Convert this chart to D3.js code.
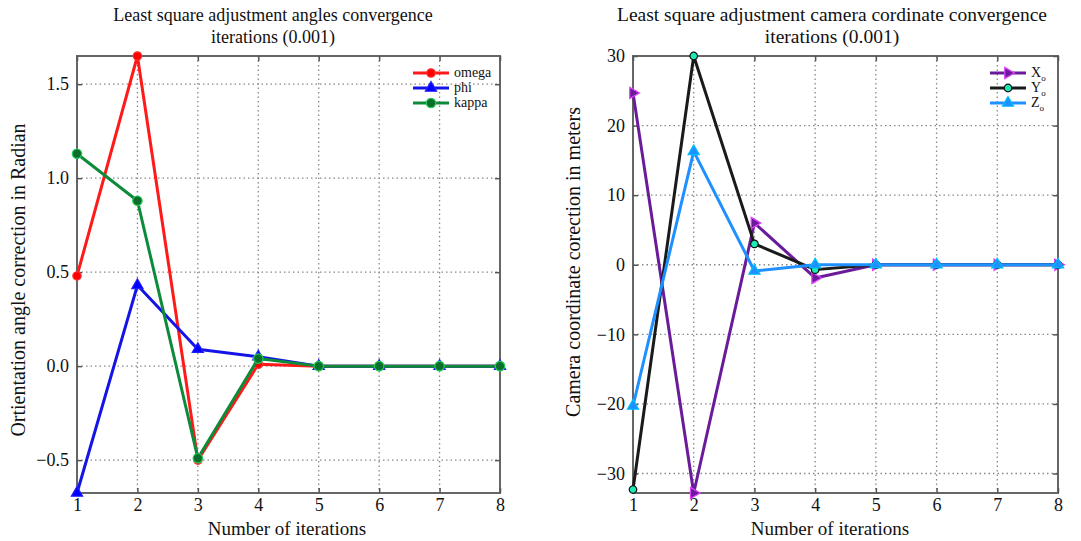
<!DOCTYPE html>
<html>
<head>
<meta charset="utf-8">
<script src="https://cdn.jsdelivr.net/npm/d3@7"></script>
<style>
  body { margin: 0; background: #fff; }
  svg text { font-family: "Liberation Serif", "DejaVu Serif", serif; fill: #111; }
</style>
</head>
<body>
<div id="chart"></div>
<script>
// iterations
var iterations = [1, 2, 3, 4, 5, 6, 7, 8];

// angle corrections (radian)
var omega = [0.48, 1.65, -0.50, 0.01, 0, 0, 0, 0];
var phi   = [-0.675, 0.43, 0.09, 0.05, 0, 0, 0, 0];
var kappa = [1.13, 0.88, -0.49, 0.04, 0, 0, 0, 0];

// camera coordinate corrections (meters)
var X0 = [24.7, -32.8, 6, -1.9, 0, 0, 0, 0];
var Y0 = [-32.3, 30, 3, -0.7, 0, 0, 0, 0];
var Z0 = [-20.3, 16.3, -0.9, 0, 0, 0, 0, 0];

var leftYTicks = [-0.5, 0.0, 0.5, 1.0, 1.5];
var rightYTicks = [-30, -20, -10, 0, 10, 20, 30];

var svg = d3.select("#chart").append("svg")
  .attr("width", 1081).attr("height", 541);

function drawPanel(opt) {
  var x = d3.scaleLinear().domain([1, 8]).range([opt.left, opt.right]);
  var y = d3.scaleLinear().domain(opt.ydomain).range([opt.bottom, opt.top]);
  var g = svg.append("g");

  // grid
  g.selectAll(".vg").data(iterations.slice(1, 7)).enter().append("line")
    .attr("x1", d => x(d)).attr("x2", d => x(d))
    .attr("y1", opt.top).attr("y2", opt.bottom)
    .attr("stroke", "#888").attr("stroke-width", 1.3).attr("stroke-dasharray", "1.5,3");
  g.selectAll(".hg").data(opt.yticks).enter().append("line")
    .attr("x1", opt.left).attr("x2", opt.right)
    .attr("y1", d => y(d)).attr("y2", d => y(d))
    .attr("stroke", "#888").attr("stroke-width", 1.3).attr("stroke-dasharray", "1.5,3");

  // frame
  g.append("rect")
    .attr("x", opt.left).attr("y", opt.top)
    .attr("width", opt.right - opt.left).attr("height", opt.bottom - opt.top)
    .attr("fill", "none").attr("stroke", "#666").attr("stroke-width", 2);

  // axes (inward ticks)
  var xb = g.append("g").attr("transform", "translate(0," + opt.bottom + ")")
    .call(d3.axisBottom(x).tickValues(iterations).tickSizeInner(-5).tickSizeOuter(0).tickPadding(5).tickFormat(d3.format("d")));
  var xt = g.append("g").attr("transform", "translate(0," + opt.top + ")")
    .call(d3.axisTop(x).tickValues(iterations).tickSizeInner(-5).tickSizeOuter(0).tickFormat(""));
  var yl = g.append("g").attr("transform", "translate(" + opt.left + ",0)")
    .call(d3.axisLeft(y).tickValues(opt.yticks).tickSizeInner(-5).tickSizeOuter(0).tickPadding(8).tickFormat(opt.fmt));
  var yr = g.append("g").attr("transform", "translate(" + opt.right + ",0)")
    .call(d3.axisRight(y).tickValues(opt.yticks).tickSizeInner(-5).tickSizeOuter(0).tickFormat(""));
  [xb, xt, yl, yr].forEach(function (a) {
    a.select(".domain").remove();
    a.selectAll("line").attr("stroke", "#555").attr("stroke-width", 1.5);
    a.selectAll("text").style("font-size", "18px").style("font-family", "Liberation Serif, serif").attr("fill", "#111");
  });

  // series
  var line = d3.line().x((d, i) => x(iterations[i])).y(d => y(d));
  opt.series.forEach(function (s) {
    var sg = g.append("g");
    sg.append("path").datum(s.values)
      .attr("d", line).attr("fill", "none")
      .attr("stroke", s.color).attr("stroke-width", 3).attr("stroke-linejoin", "round");
    sg.selectAll("path.m").data(s.values).enter().append("path")
      .attr("class", "m")
      .attr("transform", (d, i) => "translate(" + x(iterations[i]) + "," + y(d) + ")" + (s.rot ? " rotate(" + s.rot + ")" : ""))
      .attr("d", d3.symbol().type(s.symbol).size(s.size)())
      .attr("fill", s.fill).attr("stroke", s.edge).attr("stroke-width", 1.2);
  });

  // legend
  var lg = g.append("g");
  opt.series.forEach(function (s, i) {
    var ly = opt.top + 17 + i * 15;
    lg.append("line").attr("x1", opt.legendX).attr("x2", opt.legendX + 36)
      .attr("y1", ly).attr("y2", ly).attr("stroke", s.color).attr("stroke-width", 3);
    lg.append("path")
      .attr("transform", "translate(" + (opt.legendX + 18) + "," + ly + ")" + (s.rot ? " rotate(" + s.rot + ")" : ""))
      .attr("d", d3.symbol().type(s.symbol).size(s.size)())
      .attr("fill", s.fill).attr("stroke", s.edge).attr("stroke-width", 1.2);
    var t = lg.append("text").attr("x", opt.legendX + 41).attr("y", ly + 4)
      .style("font-size", "14px").text(s.name);
    if (s.sub) t.append("tspan").attr("dy", 4).style("font-size", "9px").text(s.sub);
  });

  // titles
  opt.title.forEach(function (tl, i) {
    g.append("text").attr("x", opt.titleX).attr("y", 21 + i * 22)
      .attr("text-anchor", "middle").style("font-size", opt.titleSize).text(tl);
  });
  g.append("text").attr("x", opt.xlabelX).attr("y", 535)
    .attr("text-anchor", "middle").style("font-size", "19px").text("Number of iterations");
  g.append("text").attr("transform", "translate(" + opt.ylabelX + "," + opt.ylabelY + ") rotate(-90)")
    .attr("text-anchor", "middle").style("font-size", "20px").text(opt.ylabel);
}

drawPanel({
  left: 77, right: 500, top: 56, bottom: 493,
  ydomain: [-0.675, 1.65], yticks: leftYTicks,
  fmt: d => (d < 0 ? "\u2212" : "") + Math.abs(d).toFixed(1),
  title: ["Least square adjustment angles convergence", "iterations (0.001)"], titleX: 273, titleSize: "18px",
  ylabel: "Ortientation angle correction in Radian", ylabelX: 25, ylabelY: 280,
  xlabelX: 287,
  legendX: 413,
  series: [
    { name: "omega", values: omega, color: "#ff1a1a", fill: "#ff0000", edge: "#ff3030", symbol: d3.symbolCircle, size: 55 },
    { name: "phi", values: phi, color: "#1414e6", fill: "#0000ff", edge: "#2020ff", symbol: d3.symbolTriangle, size: 55 },
    { name: "kappa", values: kappa, color: "#0d8a3a", fill: "#0b6e2c", edge: "#22cc55", symbol: d3.symbolCircle, size: 70 }
  ]
});

drawPanel({
  left: 633, right: 1058, top: 56, bottom: 493,
  ydomain: [-32.8, 30], yticks: rightYTicks,
  fmt: d => (d < 0 ? "\u2212" : "") + Math.abs(d),
  title: ["Least square adjustment camera cordinate convergence", "iterations (0.001)"], titleX: 832, titleSize: "19.5px",
  ylabel: "Camera coordinate corection in meters", ylabelX: 580, ylabelY: 262,
  xlabelX: 830,
  legendX: 990,
  series: [
    { name: "X", sub: "o", values: X0, color: "#6a1b9a", fill: "#6a1b9a", edge: "#e040fb", symbol: d3.symbolTriangle, size: 55, rot: 90 },
    { name: "Y", sub: "o", values: Y0, color: "#1a1a1a", fill: "#1de9b6", edge: "#111", symbol: d3.symbolCircle, size: 45 },
    { name: "Z", sub: "o", values: Z0, color: "#1e90ff", fill: "#1e90ff", edge: "#00bfff", symbol: d3.symbolTriangle, size: 55 }
  ]
});
</script>
</body>
</html>
